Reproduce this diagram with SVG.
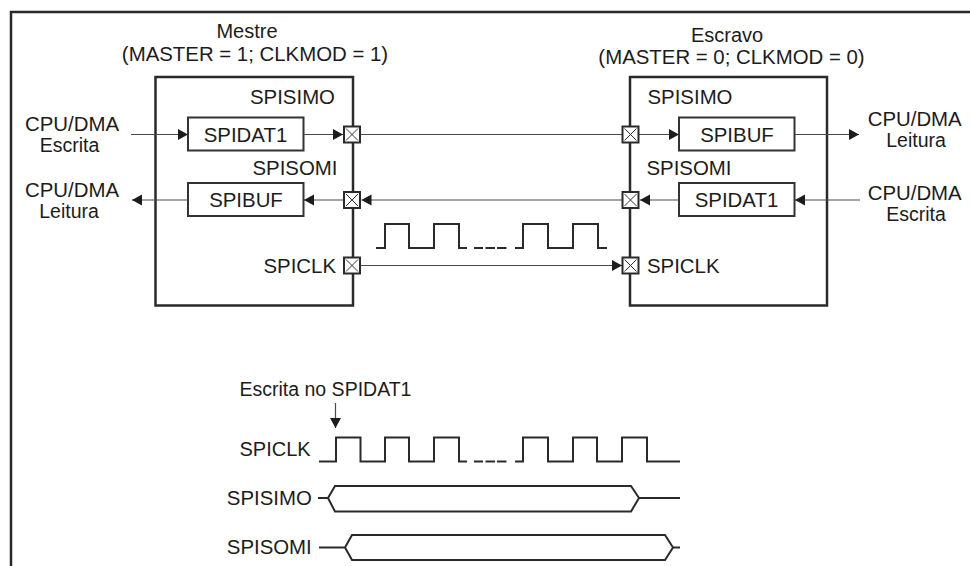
<svg xmlns="http://www.w3.org/2000/svg" width="970" height="566" viewBox="0 0 970 566">
<defs>
<marker id="a" markerUnits="userSpaceOnUse" markerWidth="11" markerHeight="12" refX="10" refY="6" orient="auto"><path d="M0 0.500L10 6L0 11.500Z" fill="#1c1c1c"/></marker>
<g id="x"><rect x="-8" y="-8" width="16" height="16" fill="#fff" stroke="#2a2a2a" stroke-width="2"/><path d="M-6 -6L6 6M6 -6L-6 6" stroke="#333" stroke-width="1" fill="none"/></g>
</defs>
<style>
text{font-family:"Liberation Sans",Arial,sans-serif;font-size:20.4px;fill:#1c1c1c}
.m{text-anchor:middle}
.s{font-size:19.5px}
.t{font-size:20px}
.b{fill:#fff;stroke:#2a2a2a;stroke-width:2.5}
.r{fill:#fff;stroke:#333;stroke-width:2}
.l{fill:none;stroke:#4a4a4a;stroke-width:1.2}
.w{fill:none;stroke:#2a2a2a;stroke-width:2}
</style>
<path id="frame" d="M11 566V12H970" fill="none" stroke="#2a2a2a" stroke-width="2.5"/>
<g id="master">
<rect class="b" x="155.500" y="77" width="197.500" height="228.500"/>
<text class="m t" x="247" y="38">Mestre</text>
<text class="m" x="255" y="61">(MASTER = 1; CLKMOD = 1)</text>
<text class="m" x="292.500" y="104">SPISIMO</text>
<text class="m" x="295" y="175">SPISOMI</text>
<text x="263.500" y="273">SPICLK</text>
</g>
<g id="master-spidat1"><rect class="r" x="188" y="117.500" width="115.500" height="33"/><text class="m" x="245.500" y="141.500">SPIDAT1</text></g>
<g id="master-spibuf"><rect class="r" x="188" y="183" width="115.500" height="33"/><text class="m" x="246" y="207">SPIBUF</text></g>
<g id="slave">
<rect class="b" x="630" y="77" width="197" height="228.500"/>
<text class="m t" x="727" y="42">Escravo</text>
<text class="m" x="731.500" y="64">(MASTER = 0; CLKMOD = 0)</text>
<text class="m" x="690" y="104">SPISIMO</text>
<text class="m" x="689" y="175">SPISOMI</text>
<text x="647" y="273">SPICLK</text>
</g>
<g id="slave-spibuf"><rect class="r" x="679" y="117.500" width="115.500" height="33"/><text class="m" x="737" y="141.500">SPIBUF</text></g>
<g id="slave-spidat1"><rect class="r" x="679" y="183" width="115.500" height="33"/><text class="m" x="736.500" y="207">SPIDAT1</text></g>
<g id="connectors">
<path class="l" d="M131 134.500H188" marker-end="url(#a)"/>
<path class="l" d="M304 134.500H343" marker-end="url(#a)"/>
<path class="l" d="M360 134.500H622"/>
<path class="l" d="M638 134.500H679" marker-end="url(#a)"/>
<path class="l" d="M795 134.500H859" marker-end="url(#a)"/>
<path class="l" d="M860 200H795" marker-end="url(#a)"/>
<path class="l" d="M679 200H640" marker-end="url(#a)"/>
<path class="l" d="M622 200H361.500" marker-end="url(#a)"/>
<path class="l" d="M344 200H304" marker-end="url(#a)"/>
<path class="l" d="M188 200H132" marker-end="url(#a)"/>
<path class="l" d="M360 265.500H622" marker-end="url(#a)"/>
<path class="l" d="M335.500 403V428" marker-end="url(#a)"/>
</g>
<g id="ports">
<use href="#x" x="352" y="134.500"/><use href="#x" x="352" y="200"/><use href="#x" x="352" y="265.500"/>
<use href="#x" x="630.500" y="134.500"/><use href="#x" x="630.500" y="200"/><use href="#x" x="630.500" y="265.500"/>
</g>
<g id="labels">
<text class="m" x="72" y="131">CPU/DMA</text><text class="m s" x="69.500" y="152">Escrita</text>
<text class="m" x="72" y="196.500">CPU/DMA</text><text class="m s" x="69" y="217.500">Leitura</text>
<text class="m" x="914.700" y="126">CPU/DMA</text><text class="m s" x="916" y="147">Leitura</text>
<text class="m" x="914.700" y="200">CPU/DMA</text><text class="m s" x="916" y="220.500">Escrita</text>
</g>
<g id="clock-top">
<path class="w" d="M376 248H385V224H409V248H434V224H459V248H467"/>
<path class="w" d="M474 248H483M485.500 248H495M497 248H506.500"/>
<path class="w" d="M515 248H523V224H548V248H573V224H598V248H607"/>
</g>
<g id="timing">
<text class="s" x="239.500" y="396">Escrita no SPIDAT1</text>
<text class="t" x="239.500" y="455.500">SPICLK</text>
<text x="226.800" y="505">SPISIMO</text>
<text x="226.800" y="554">SPISOMI</text>
<path class="w" d="M319 461.500H336V437.500H360.500V461.500H385V437.500H409V461.500H434V437.500H459V461.500H467"/>
<path class="w" d="M474 461.500H483M485.500 461.500H495M497 461.500H506.500"/>
<path class="w" d="M515 461.500H523V437.500H548V461.500H573V437.500H597V461.500H622V437.500H647V461.500H680"/>
<path class="w" d="M318 498H328M680 498H639M328 498L335 486H631L639 498L631 511.500H335Z"/>
<path class="w" d="M319 547.500H345M680 547.500H673M345 547.500L352 535H665L673 547.500L665 560H352Z"/>
</g>
</svg>
